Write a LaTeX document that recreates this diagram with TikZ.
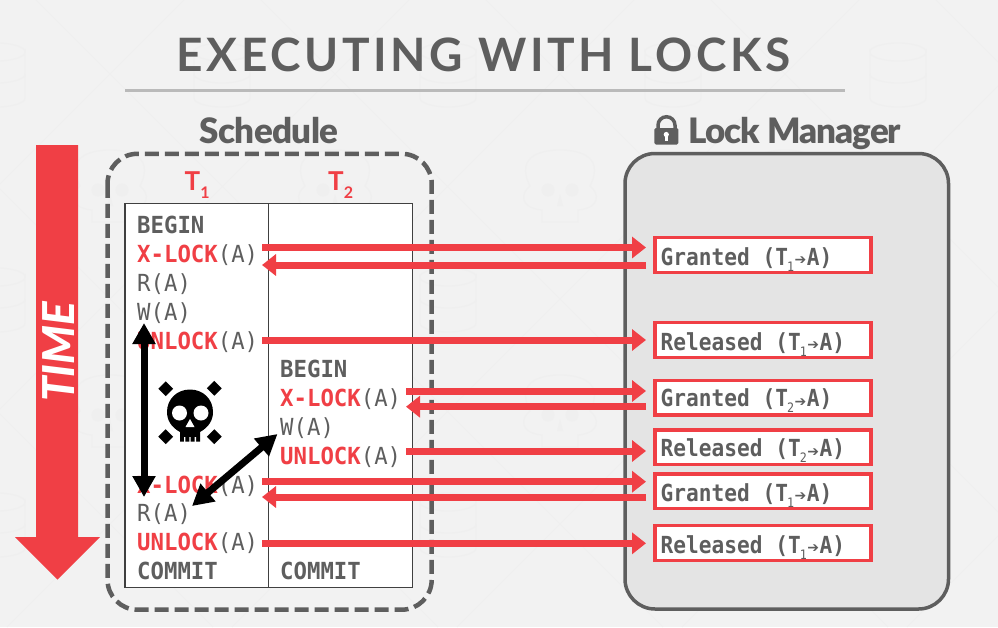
\documentclass[tikz,border=0pt]{standalone}
\usepackage{fontspec}
\usetikzlibrary{arrows.meta}
\setmainfont{Lato}
\newfontfamily\mono[FakeStretch=0.95]{DejaVu Sans Mono}
\newfontfamily\monob[FakeStretch=0.95]{DejaVu Sans Mono Bold}
\newfontfamily\lmono[FakeStretch=0.9]{DejaVu Sans Mono}
\newfontfamily\lmonob[FakeStretch=0.9]{DejaVu Sans Mono Bold}
\newfontfamily\arr{DejaVu Sans Bold}
\newfontfamily\titlef[LetterSpace=7.9]{Lato Bold}
\newfontfamily\headf[LetterSpace=-1.8]{Lato Black}
\newfontfamily\headg[LetterSpace=-2.8]{Lato Black}
\newfontfamily\timef{Lato Black Italic}
\definecolor{rd}{HTML}{F03F45}
\definecolor{ink}{HTML}{5E5E5E}
\definecolor{wm}{HTML}{EFEFEF}
\tikzset{
  row/.style={anchor=base west,inner sep=0pt,font=\fontsize{23.5}{23.5}\selectfont,text=ink,yshift=-0.7pt},
  lab/.style={anchor=base west,inner sep=0pt,font=\fontsize{23.5}{23.5}\selectfont,text=ink},
  box/.style={draw=rd,fill=white,line width=3.5pt,minimum width=216pt,inner sep=0pt,outer sep=0pt,anchor=north west},
  ra/.style={draw=rd,line width=7pt,-{Triangle[length=14pt,width=21pt]}},
  ba/.style={draw=black,line width=7pt,{Triangle[length=21pt,width=22pt]}-{Triangle[length=21pt,width=22pt]}},
  wml/.style={draw=wm,line width=1pt},
  bone/.style={draw=black,line width=10.5pt},
}
\newcommand{\kw}[1]{{\monob\textcolor{rd}{#1}}}
\newcommand{\kb}[1]{{\monob #1}}
\newcommand{\ar}{{\mono(A)}}
\newcommand{\lb}[1]{{\lmonob #1}}
\newcommand{\tr}[1]{{\lmonob T}\kern-1pt\raisebox{-6pt}{\fontsize{13}{13}\selectfont\lmono #1}\kern0.5pt\raisebox{0.5pt}{\fontsize{14}{14}\selectfont\arr ➔}\kern0.5pt{\lmonob A}}
\begin{document}
\begin{tikzpicture}[x=1pt,y=-1pt]
\useasboundingbox (0,0) rectangle (998,627);
\fill[fill=black!5] (0,0) rectangle (998,627);
% faint watermark tile
\begin{scope}
\clip (0,0) rectangle (998,627);
\foreach \k in {-3,...,6}{
  \draw[wml] ({36+225*\k},0) -- ({36+225*\k+627},627);
  \draw[wml] ({184+225*\k},0) -- ({184+225*\k-627},627);
}
\foreach \cx in {-3,222,448,673,898}{
  \foreach \cy in {74,299,524}{
    \draw[wml,line width=1.2pt,fill=black!5] (\cx-28,\cy-22) arc[start angle=180,end angle=360,x radius=28,y radius=-9] -- (\cx+28,\cy+24) arc[start angle=0,end angle=180,x radius=28,y radius=9] -- cycle;
    \draw[wml,line width=1.2pt] (\cx-28,\cy-22) arc[start angle=180,end angle=0,x radius=28,y radius=-9];
    \draw[wml,line width=1.2pt] (\cx-28,\cy) arc[start angle=180,end angle=360,x radius=28,y radius=-9];
  }
}
\foreach \cx in {110,335,560,785}{
  \foreach \cy in {186,411}{
    \draw[wml,line width=1.2pt,fill=black!5] (\cx-18,\cy+36) -- (\cx-18,\cy+24) .. controls (\cx-40,\cy+22) and (\cx-40,\cy+8) .. (\cx-30,\cy) .. controls (\cx-46,\cy-32) and (\cx-15,\cy-36) .. (\cx,\cy-36) .. controls (\cx+15,\cy-36) and (\cx+46,\cy-32) .. (\cx+30,\cy) .. controls (\cx+40,\cy+8) and (\cx+40,\cy+22) .. (\cx+18,\cy+24) -- (\cx+18,\cy+36) -- cycle;
    \fill[wm] (\cx-12,\cy+4) circle[radius=6.5] (\cx+12,\cy+4) circle[radius=6.5];
    \fill[wm] (\cx,\cy+8) -- (\cx-3,\cy+20) -- (\cx+3,\cy+20) -- cycle;
  }
}
\end{scope}
% title
\node[inner sep=0pt,anchor=base,text=ink,font=\fontsize{46}{46}\selectfont\titlef] (title) at (483.5,71.5) {EXECUTING WITH LOCKS};
\draw[draw=black!27,line width=2.5pt] (125,90.5) -- (845,90.5);
% headers
\node[inner sep=0pt,anchor=base,text=ink,font=\fontsize{35}{35}\selectfont\headf] (sched) at (269,143) {Schedule};
\node[inner sep=0pt,anchor=base west,text=ink,font=\fontsize{35}{35}\selectfont\headg] (lm) at (688,143) {Lock Manager};
% lock icon
\draw[ink,line width=3.5pt] (658,131) -- (658,125.25) arc[start angle=180,end angle=360,x radius=8.5,y radius=8.5] -- (675,131);
\fill[ink,rounded corners=1.5pt] (654.3,128) rectangle (678.3,144.5);
\fill[white] (666.3,134.5) circle[radius=2.6];
\fill[white] (665.1,134.5) rectangle (667.5,140.5);
% TIME arrow
\fill[rd] (36,145) -- (78,145) -- (78,537) -- (100,537) -- (57.5,579.5) -- (15,537) -- (36,537) -- cycle;
\node[inner sep=0pt,rotate=90,text=white,font=\fontsize{44}{44}\selectfont\timef] (time) at (58.5,352) {TIME};
% panels
\draw[draw=ink,line width=4.5pt,dash pattern=on 14pt off 6pt,rounded corners=30pt] (107.5,153.8) rectangle (431.7,609.7);
\draw[draw=ink,fill=black!10.5,line width=3.5pt,rounded corners=30pt] (625,153.5) rectangle (948.5,609);
\draw[draw=black!75,fill=white,line width=1.3pt] (125,203.7) rectangle (412.3,587.7);
\draw[draw=black!75,line width=1.3pt] (268.3,203.7) -- (268.3,587.7);
% transaction heads
\node[inner sep=0pt,anchor=base west,text=rd,font=\fontsize{26}{26}\selectfont\bfseries] (t1) at (184.5,190.5) {T\raisebox{-7.5pt}{\fontsize{16}{16}\selectfont 1}};
\node[inner sep=0pt,anchor=base west,text=rd,font=\fontsize{26}{26}\selectfont\bfseries] (t2) at (328,190.5) {T\raisebox{-7.5pt}{\fontsize{16}{16}\selectfont 2}};
% rows, T1
\node[row] (b1) at (137,232.7) {\kb{BEGIN}};
\node[row] (x1) at (137,261.7) {\kw{X-LOCK}\ar};
\node[row] (r1) at (137,291) {{\mono R(A)}};
\node[row] (w1) at (137,319.5) {{\mono W(A)}};
\node[row] (u1) at (137,348.7) {\kw{UNLOCK}\ar};
\node[row] (x3) at (137,493) {\kw{X-LOCK}\ar};
\node[row] (r3) at (137,521) {{\mono R(A)}};
\node[row] (u3) at (137,550) {\kw{UNLOCK}\ar};
\node[row] (c1) at (137,579) {\kb{COMMIT}};
% rows, T2
\node[row] (b2) at (280,376.7) {\kb{BEGIN}};
\node[row] (x2) at (280,406) {\kw{X-LOCK}\ar};
\node[row] (w2) at (280,435) {{\mono W(A)}};
\node[row] (u2) at (280,463.5) {\kw{UNLOCK}\ar};
\node[row] (c2) at (280,579) {\kb{COMMIT}};
% result boxes
\node[box,minimum height=35pt] (g1) at (655,237.5) {};
\node[box,minimum height=35pt] (l1) at (655,322.5) {};
\node[box,minimum height=34.3pt] (g2) at (655,380.7) {};
\node[box,minimum height=34.3pt] (l2) at (655,430) {};
\node[box,minimum height=34.3pt] (g3) at (655,474) {};
\node[box,minimum height=34.6pt] (l3) at (655,525.7) {};
\node[lab] (tg1) at (660.5,265) {\lb{Granted (}\tr{1}\lb{)}};
\node[lab] (tl1) at (660.5,350) {\lb{Released (}\tr{1}\lb{)}};
\node[lab] (tg2) at (660.5,406.7) {\lb{Granted (}\tr{2}\lb{)}};
\node[lab] (tl2) at (660.5,456.7) {\lb{Released (}\tr{2}\lb{)}};
\node[lab] (tg3) at (660.5,501) {\lb{Granted (}\tr{1}\lb{)}};
\node[lab] (tl3) at (660.5,553) {\lb{Released (}\tr{1}\lb{)}};
% connector ends
\coordinate (g1f) at ([xshift=-9pt,yshift=7.5pt]g1.west);
\coordinate (g1b) at ([xshift=-9pt,yshift=-10pt]g1.west);
\coordinate (l1f) at ([xshift=-9pt]l1.west);
\coordinate (g2f) at ([xshift=-9pt,yshift=6.85pt]g2.west);
\coordinate (g2b) at ([xshift=-9pt,yshift=-8.85pt]g2.west);
\coordinate (l2f) at ([xshift=-9pt,yshift=-3.85pt]l2.west);
\coordinate (g3f) at ([xshift=-9pt,yshift=9.45pt]g3.west);
\coordinate (g3b) at ([xshift=-9pt,yshift=-5.85pt]g3.west);
\coordinate (l3f) at ([xshift=-9pt,yshift=-0.3pt]l3.west);
\coordinate (s1) at (262,250);
\coordinate (s2) at (406,250);
\draw[ra] (s1 |- g1f) -- (g1f);
\draw[ra] (g1b) -- (s1 |- g1b);
\draw[ra] (s1 |- l1f) -- (l1f);
\draw[ra] (s2 |- g2f) -- (g2f);
\draw[ra] (g2b) -- (s2 |- g2b);
\draw[ra] (s2 |- l2f) -- (l2f);
\draw[ra] (s1 |- g3f) -- (g3f);
\draw[ra] (g3b) -- (s1 |- g3b);
\draw[ra] (s1 |- l3f) -- (l3f);
% skull
\draw[bone] (162,385) -- (169.4,392.4);
\draw[bone] (218,384.6) -- (210.6,392);
\draw[bone] (162,440.4) -- (169.4,433);
\draw[bone] (218,440.4) -- (210.6,433);
\fill[black] (180,441.7) -- (180,432) .. controls (171,427) and (167,420) .. (167,412) .. controls (167,399) and (177,389.5) .. (190,389.5) .. controls (203,389.5) and (213,399) .. (213,412) .. controls (213,420) and (209,427) .. (200,432) -- (200,441.7) -- cycle;
\fill[white] (179.5,413) circle[radius=7.5] (201,413) circle[radius=7.5];
\fill[white] (190,419) -- (185.5,427) -- (194.5,427) -- cycle;
\fill[white] (184,437) rectangle (185.3,442) (189.4,437) rectangle (190.7,442) (194.7,437) rectangle (196,442);
% deadlock arrows
\coordinate (v1) at (144,323);
\coordinate (v2) at (144,497);
\coordinate (d1) at (277.5,434);
\coordinate (d2) at (192,506);
\draw[ba] (v1) -- (v2);
\draw[ba] (d1) -- (d2);
\end{tikzpicture}
\end{document}
